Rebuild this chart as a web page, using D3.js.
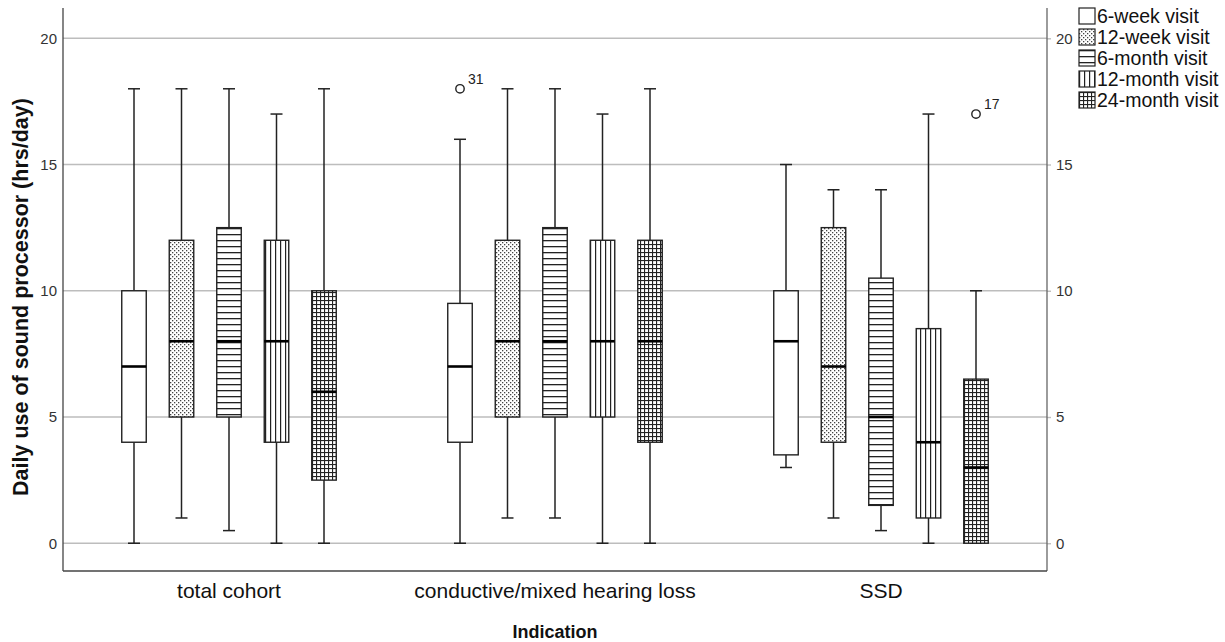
<!DOCTYPE html>
<html>
<head>
<meta charset="utf-8">
<script src="https://cdn.jsdelivr.net/npm/d3@7"></script>
<style>
  body { margin: 0; background: #fff; }
  svg { display: block; font-family: "Liberation Sans", Arial, sans-serif; }
</style>
</head>
<body>
<svg id="chart" width="1225" height="642"></svg>
<script>
// groups on the x axis and visits inside each group
const groups = ['total cohort', 'conductive/mixed hearing loss', 'SSD'];
const visits = ['6-week visit', '12-week visit', '6-month visit', '12-month visit', '24-month visit'];
const patterns = ['none', 'dots', 'hlines', 'vlines', 'grid'];

// [whisker low, q1, median, q3, whisker high] per group, per visit
const totalCohort = [[0, 4, 7, 10, 18], [1, 5, 8, 12, 18], [0.5, 5, 8, 12.5, 18], [0, 4, 8, 12, 17], [0, 2.5, 6, 10, 18]];
const conductive  = [[0, 4, 7, 9.5, 16], [1, 5, 8, 12, 18], [1, 5, 8, 12.5, 18], [0, 5, 8, 12, 17], [0, 4, 8, 12, 18]];
const ssd         = [[3, 3.5, 8, 10, 15], [1, 4, 7, 12.5, 14], [0.5, 1.5, 5, 10.5, 14], [0, 1, 4, 8.5, 17], [0, 0, 3, 6.5, 10]];
const stats = [totalCohort, conductive, ssd];

// outliers: group index, visit index, value, case label
const outliers = [
  { g: 1, v: 0, value: 18, label: '31' },
  { g: 2, v: 4, value: 17, label: '17' }
];

const yTicks = [0, 5, 10, 15, 20];

const svg = d3.select('#chart');
const L = 63, R = 1047, T = 8, B = 571;
const INK = '#222', GRID = '#bdbdbd';
const FONT = '"Liberation Sans", Arial, sans-serif';

const y = d3.scaleLinear().domain([-1.1, 21.2]).range([B, T]);
const x = d3.scaleBand().domain(groups).range([66, 1044]);
const xi = d3.scalePoint().domain(visits).range([-95, 95]);
const BW = 24.5, CAP = 12;

// patterns
const defs = svg.append('defs');
const pDots = defs.append('pattern').attr('id', 'p-dots').attr('patternUnits', 'userSpaceOnUse').attr('width', 4).attr('height', 4);
pDots.append('rect').attr('width', 4).attr('height', 4).attr('fill', '#fff');
pDots.append('rect').attr('x', 0).attr('y', 0).attr('width', 1.3).attr('height', 1.3).attr('fill', '#444');
pDots.append('rect').attr('x', 2).attr('y', 2).attr('width', 1.3).attr('height', 1.3).attr('fill', '#444');

const pH = defs.append('pattern').attr('id', 'p-hlines').attr('patternUnits', 'userSpaceOnUse').attr('width', 6).attr('height', 6);
pH.append('rect').attr('width', 6).attr('height', 6).attr('fill', '#fff');
pH.append('rect').attr('y', 0).attr('width', 6).attr('height', 1.3).attr('fill', INK);

const pV = defs.append('pattern').attr('id', 'p-vlines').attr('patternUnits', 'userSpaceOnUse').attr('width', 5).attr('height', 5);
pV.append('rect').attr('width', 5).attr('height', 5).attr('fill', '#fff');
pV.append('rect').attr('x', 0).attr('width', 1.2).attr('height', 5).attr('fill', INK);

const pG = defs.append('pattern').attr('id', 'p-grid').attr('patternUnits', 'userSpaceOnUse').attr('width', 4).attr('height', 4);
pG.append('rect').attr('width', 4).attr('height', 4).attr('fill', '#fff');
pG.append('rect').attr('x', 0).attr('width', 1.1).attr('height', 4).attr('fill', INK);
pG.append('rect').attr('y', 0).attr('width', 4).attr('height', 1.1).attr('fill', INK);

const fillOf = p => p === 'none' ? '#fff' : `url(#p-${p})`;

// gridlines
svg.append('g').selectAll('line').data(yTicks).join('line')
  .attr('x1', L).attr('x2', R).attr('y1', d => y(d)).attr('y2', d => y(d))
  .attr('stroke', GRID).attr('stroke-width', 1.4);

// left and right axes
const yl = svg.append('g').attr('transform', `translate(${L},0)`)
  .call(d3.axisLeft(y).tickValues(yTicks).tickSize(0).tickPadding(6));
const yr = svg.append('g').attr('transform', `translate(${R},0)`)
  .call(d3.axisRight(y).tickValues(yTicks).tickSize(4).tickPadding(5));
[yl, yr].forEach(g => {
  g.select('.domain').remove();
  g.selectAll('.tick line').attr('stroke', GRID).attr('stroke-width', 1.4);
  g.selectAll('.tick text').attr('font-size', 15).attr('fill', '#333').attr('font-family', FONT);
});
svg.append('line').attr('x1', L).attr('x2', L).attr('y1', T).attr('y2', B).attr('stroke', '#444').attr('stroke-width', 1.3);
svg.append('line').attr('x1', R).attr('x2', R).attr('y1', T).attr('y2', B).attr('stroke', '#666').attr('stroke-width', 1.3);
svg.append('line').attr('x1', L).attr('x2', R).attr('y1', B).attr('y2', B).attr('stroke', '#444').attr('stroke-width', 1.3);

// x labels
const xa = svg.append('g').attr('transform', `translate(0,${B})`)
  .call(d3.axisBottom(x).tickSize(0).tickPadding(12));
xa.select('.domain').remove();
xa.selectAll('.tick text').attr('font-size', 21).attr('fill', '#111').attr('font-family', FONT);

// boxes
const cx = (gi, vi) => x(groups[gi]) + x.bandwidth() / 2 + xi(visits[vi]);
stats.forEach((grp, gi) => {
  grp.forEach((s, vi) => {
    const [lo, q1, med, q3, hi] = s;
    const c = cx(gi, vi);
    const g = svg.append('g');
    g.append('line').attr('x1', c).attr('x2', c).attr('y1', y(hi)).attr('y2', y(q3)).attr('stroke', INK).attr('stroke-width', 1.5);
    g.append('line').attr('x1', c).attr('x2', c).attr('y1', y(q1)).attr('y2', y(lo)).attr('stroke', INK).attr('stroke-width', 1.5);
    g.append('line').attr('x1', c - CAP / 2).attr('x2', c + CAP / 2).attr('y1', y(hi)).attr('y2', y(hi)).attr('stroke', INK).attr('stroke-width', 1.5);
    g.append('line').attr('x1', c - CAP / 2).attr('x2', c + CAP / 2).attr('y1', y(lo)).attr('y2', y(lo)).attr('stroke', INK).attr('stroke-width', 1.5);
    g.append('rect').attr('x', c - BW / 2).attr('y', y(q3)).attr('width', BW).attr('height', y(q1) - y(q3))
      .attr('fill', fillOf(patterns[vi])).attr('stroke', INK).attr('stroke-width', 1.4);
    g.append('line').attr('x1', c - BW / 2).attr('x2', c + BW / 2).attr('y1', y(med)).attr('y2', y(med))
      .attr('stroke', '#000').attr('stroke-width', 2.6);
  });
});

// outliers
outliers.forEach(o => {
  const c = cx(o.g, o.v);
  svg.append('circle').attr('cx', c).attr('cy', y(o.value)).attr('r', 4.2)
    .attr('fill', '#fff').attr('stroke', INK).attr('stroke-width', 1.4);
  svg.append('text').attr('x', c + 8).attr('y', y(o.value) - 5).attr('font-size', 14).attr('fill', '#222').text(o.label);
});

// axis titles
svg.append('text').attr('x', (L + R) / 2).attr('y', 638).attr('text-anchor', 'middle')
  .attr('font-size', 18).attr('font-weight', 'bold').attr('fill', '#111').text('Indication');
svg.append('text').attr('transform', `translate(28,297) rotate(-90)`).attr('text-anchor', 'middle')
  .attr('font-size', 21.5).attr('font-weight', 'bold').attr('fill', '#111').text('Daily use of sound processor (hrs/day)');

// legend
const lg = svg.append('g').attr('transform', 'translate(1079,8)');
visits.forEach((v, i) => {
  const row = lg.append('g').attr('transform', `translate(0,${i * 21})`);
  row.append('rect').attr('x', 0).attr('y', 0).attr('width', 16).attr('height', 16)
    .attr('fill', fillOf(patterns[i])).attr('stroke', INK).attr('stroke-width', 1.2);
  row.append('text').attr('x', 18).attr('y', 15).attr('font-size', 19.5).attr('fill', '#111').text(v);
});
</script>
</body>
</html>
